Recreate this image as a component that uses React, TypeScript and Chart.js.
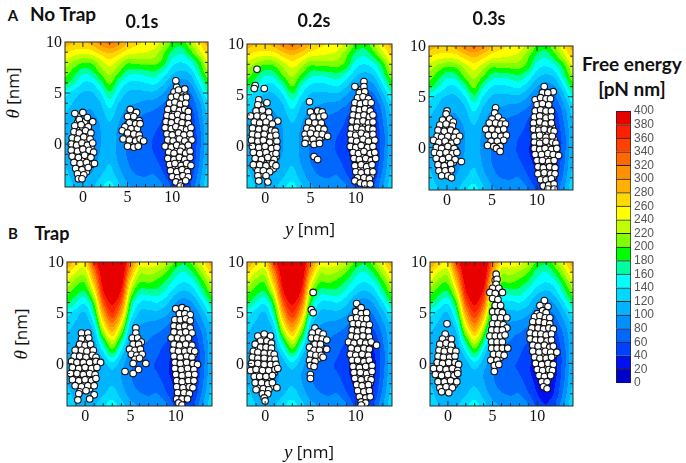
import React, { useEffect, useRef } from "react";
import { Chart, registerables } from "chart.js";

Chart.register(...registerables);

const columnsY = [-2,-1,0,1,2,3,4,5,6,7,8,9,10,11,12,13,14];
const rowsTheta = [10,9,8,7,6,5,4,3,2,1,0,-1,-2,-3,-4.2];

const noTrapEnergy = [
[292,280,278,288,312,325,308,280,266,258,252,230,195,190,218,258,292],
[262,252,248,252,272,284,270,250,244,240,232,205,175,165,192,232,268],
[232,216,202,206,230,250,230,205,208,208,208,190,150,140,155,192,242],
[210,188,165,172,205,225,200,170,165,170,175,155,125,115,125,170,215],
[188,165,140,140,170,205,165,140,135,140,145,125,100,90,100,140,190],
[150,130,118,118,140,175,140,118,115,115,115,100,80,70,78,115,160],
[130,118,108,105,120,150,120,105,100,95,92,80,65,55,62,95,135],
[120,110,100,98,110,130,108,92,85,80,75,62,50,42,48,85,125],
[115,105,95,92,102,118,100,85,78,72,68,55,42,34,42,78,118],
[115,105,92,90,100,112,95,80,70,65,60,46,34,28,36,72,115],
[118,105,90,90,100,110,95,78,68,62,58,42,30,24,34,72,115],
[118,106,92,92,102,112,95,78,68,62,60,44,32,26,36,75,118],
[120,108,95,95,108,120,100,82,72,68,68,52,36,30,42,80,122],
[125,112,100,102,118,130,110,90,80,78,80,62,42,36,48,88,128],
[130,120,110,115,135,150,125,105,95,92,98,82,56,48,62,100,135],
];

const trapEnergy = [
[300,270,262,360,420,430,420,330,258,252,248,225,195,185,212,252,295],
[265,240,232,320,410,420,410,300,228,228,218,200,170,160,185,225,265],
[235,210,205,285,395,415,395,260,202,202,192,175,150,140,155,195,235],
[205,188,178,245,375,405,370,225,170,170,170,150,125,115,130,170,210],
[185,160,145,205,340,385,335,190,140,135,140,125,100,90,105,140,180],
[150,130,120,175,300,360,295,165,118,115,115,105,85,75,85,115,150],
[130,118,108,145,260,320,250,135,105,98,95,85,70,60,70,98,125],
[120,110,100,122,215,275,205,115,92,85,80,70,55,48,55,85,118],
[115,105,95,110,170,225,165,100,85,78,70,58,45,36,45,78,115],
[115,105,92,100,135,180,130,90,75,68,62,48,36,28,38,72,115],
[118,105,92,96,112,135,110,85,70,62,58,44,30,22,34,72,115],
[118,106,92,95,105,115,100,82,70,62,60,44,30,20,34,75,118],
[120,108,95,98,108,118,102,84,74,68,68,52,34,22,40,80,122],
[125,112,100,105,118,130,112,92,82,78,80,62,40,28,46,88,128],
[130,120,110,118,135,150,128,108,98,92,98,82,54,42,62,100,135],
];

const bandLevels = [0,20,40,60,80,100,120,140,160,180,200,220,240,260,280,300,320,340,360,380];
const bandColors = ["#0000c8","#0010f0","#0040ff","#0068ff","#0090ff","#00b4ff","#00d8ff","#00ffff","#00ffa0","#00ff00","#80ff00","#c0ff00","#ffff00","#ffd800","#ffb000","#ff9000","#ff6800","#ff4000","#ff2000","#e80000"];
const barTicks = [0,20,40,60,80,100,120,140,160,180,200,220,240,260,280,300,320,340,360,380,400];
const panelTicks = [0,5,10];

const noTrap01 = [[-0.9,3.0],[0.0,3.1],[-0.4,2.4],[0.5,2.6],[1.1,2.2],[-0.9,1.8],[-0.2,1.9],[0.6,1.7],[-1.0,1.2],[-0.4,1.1],[0.3,1.3],[0.9,1.1],[-1.2,0.6],[-0.6,0.5],[0.1,0.7],[0.8,0.5],[-1.3,0.0],[-0.7,-0.1],[-0.1,0.1],[0.5,-0.1],[1.1,0.1],[-1.3,-0.6],[-0.6,-0.7],[0.0,-0.5],[0.7,-0.6],[1.2,-0.8],[-1.2,-1.2],[-0.5,-1.3],[0.2,-1.1],[0.9,-1.3],[-1.0,-1.8],[-0.3,-1.9],[0.4,-1.8],[1.3,-1.9],[-0.8,-2.4],[-0.1,-2.5],[0.6,-2.3],[-0.6,-2.9],[0.1,-3.0],[-0.5,-3.4],[-0.1,-3.4],
[5.3,3.4],[6.0,3.1],[5.0,2.7],[5.7,2.7],[6.3,2.3],[5.2,2.1],[5.9,2.0],[4.7,1.7],[5.4,1.5],[6.1,1.5],[6.4,2.0],[4.4,1.3],[5.0,1.1],[5.7,1.0],[6.3,0.9],[4.5,0.5],[5.2,0.4],[5.9,0.3],[6.4,0.5],[6.8,0.3],[5.0,-0.2],[5.7,-0.3],[6.2,-0.2],
[10.4,6.2],[11.0,5.2],[11.4,5.4],[10.2,5.1],[10.7,5.3],[9.9,4.6],[10.5,4.7],[11.1,4.5],[11.6,4.6],[9.7,4.0],[10.3,4.1],[10.9,3.9],[11.5,4.0],[9.5,3.4],[10.2,3.5],[10.8,3.3],[11.4,3.4],[11.8,3.2],[9.4,2.8],[10.0,2.7],[10.6,2.9],[11.2,2.7],[11.8,2.6],[9.3,2.2],[9.9,2.1],[10.6,2.3],[11.1,2.1],[11.8,2.0],[9.2,1.6],[9.9,1.5],[10.4,1.7],[11.0,1.5],[11.6,1.4],[12.1,1.6],[9.4,1.0],[10.0,0.9],[10.7,1.1],[11.3,0.9],[12.0,1.0],[9.5,0.4],[10.1,0.3],[10.8,0.5],[11.4,0.3],[12.2,0.4],[9.2,-0.2],[9.9,-0.3],[10.5,-0.1],[11.1,-0.3],[11.8,-0.1],[9.6,-0.8],[10.2,-0.9],[10.9,-0.7],[11.5,-0.9],[12.0,-0.7],[9.5,-1.4],[10.2,-1.5],[10.8,-1.3],[11.4,-1.5],[12.0,-1.3],[9.7,-2.0],[10.3,-1.9],[11.0,-2.1],[11.6,-1.9],[12.1,-2.1],[9.8,-2.6],[10.5,-2.7],[11.1,-2.5],[11.7,-2.7],[10.0,-3.2],[10.6,-3.3],[11.2,-3.1],[11.8,-3.2],[10.4,-3.7],[11.0,-3.8],[11.5,-3.6],[10.9,-4.1]];
const noTrap01Fill = [[-0.5,2.7],[-0.6,2.1],[0.2,2.2],[-0.7,1.5],[0.0,1.6],[0.6,1.4],[-0.8,0.9],[0.0,0.9],[0.7,0.8],[-1.0,0.3],[-0.3,0.3],[0.4,0.3],[-1.0,-0.3],[-0.3,-0.3],[0.3,-0.3],[0.9,-0.3],[-0.9,-0.9],[-0.2,-0.9],[0.4,-0.8],[1.0,-0.9],[-0.8,-1.5],[-0.1,-1.5],[0.6,-1.5],[-0.6,-2.1],[0.1,-2.2],[0.9,-2.0],[-0.4,-2.7],[0.4,-2.7],
[5.4,3.0],[5.5,2.4],[5.0,1.9],[5.7,1.8],[4.8,1.3],[5.4,1.2],[6.0,1.2],[4.9,0.7],[5.6,0.7],[5.4,0.1],[6.1,0.1],
[10.5,5.6],[10.2,4.9],[10.8,5.0],[11.3,5.0],[10.0,4.3],[10.6,4.4],[11.2,4.2],[9.8,3.7],[10.5,3.8],[11.1,3.6],[9.7,3.1],[10.3,3.1],[10.9,3.0],[11.5,3.0],[9.6,2.5],[10.3,2.5],[10.9,2.5],[11.5,2.3],[9.5,1.9],[10.2,1.9],[10.8,1.8],[11.4,1.8],[9.6,1.3],[10.2,1.2],[10.9,1.2],[11.6,1.2],[9.7,0.6],[10.4,0.6],[11.1,0.6],[11.7,0.7],[9.5,0.1],[10.2,0.1],[10.9,0.1],[11.6,0.1],[9.9,-0.6],[10.5,-0.5],[11.2,-0.6],[11.8,-0.5],[9.8,-1.1],[10.5,-1.2],[11.1,-1.1],[11.7,-1.1],[10.0,-1.7],[10.6,-1.7],[11.3,-1.7],[10.1,-2.3],[10.7,-2.3],[11.4,-2.3],[10.3,-2.9],[10.9,-2.9],[11.4,-2.9],[10.7,-3.5],[11.2,-3.5]];

const noTrap02 = [[-0.9,7.5],[-1.1,5.9],[-1.2,5.6],[-0.1,5.6],[-0.7,4.5],[-0.8,4.0],[0.2,4.2],[-1.0,3.4],[-0.3,3.5],[0.4,3.3],[-1.6,2.9],[-0.9,2.9],[-0.2,2.8],[0.5,2.7],[1.4,2.4],[-1.2,2.3],[-0.6,2.2],[0.1,2.3],[0.8,2.1],[-1.4,1.7],[-0.7,1.6],[0.0,1.7],[0.7,1.5],[1.1,1.4],[-1.4,1.1],[-0.8,1.0],[-0.1,1.1],[0.6,0.9],[1.2,1.0],[-1.5,0.5],[-0.8,0.4],[-0.2,0.5],[0.5,0.3],[1.3,0.4],[-1.4,-0.1],[-0.7,-0.2],[0.0,-0.1],[0.7,-0.3],[1.3,-0.2],[-1.3,-0.7],[-0.6,-0.8],[0.1,-0.7],[0.8,-0.9],[1.2,-0.8],[-1.1,-1.3],[-0.4,-1.4],[0.3,-1.2],[1.0,-1.4],[-1.3,-1.9],[-0.6,-1.9],[0.1,-2.0],[0.8,-1.8],[1.2,-2.0],[-0.8,-2.5],[-0.2,-2.5],[0.5,-2.6],[-0.8,-3.0],[0.1,-3.0],[-0.7,-3.5],[0.3,-3.6],
[4.9,4.3],[5.0,3.3],[5.8,3.4],[6.3,3.3],[5.3,2.8],[6.0,2.8],[6.5,2.9],[4.8,2.3],[5.5,2.2],[6.2,2.2],[4.6,1.7],[5.2,1.6],[5.9,1.7],[6.5,1.6],[4.4,1.1],[5.0,1.2],[5.7,1.1],[6.3,1.1],[6.9,0.9],[4.5,0.6],[5.3,0.6],[6.0,0.5],[4.4,0.2],[5.4,0.1],[6.0,0.2],[5.4,-1.1],[5.8,-1.4],
[10.9,6.3],[10.9,5.8],[9.9,5.8],[10.4,5.2],[11.0,5.3],[10.2,4.7],[10.8,4.8],[11.4,4.6],[9.9,4.2],[10.5,4.1],[11.1,4.2],[11.7,4.2],[9.8,3.6],[10.4,3.5],[11.0,3.6],[11.6,3.4],[9.7,3.0],[10.3,2.9],[10.9,3.0],[11.5,2.8],[11.9,3.0],[9.6,2.4],[10.2,2.3],[10.8,2.4],[11.4,2.2],[11.9,2.3],[9.5,1.7],[10.1,1.8],[10.7,1.6],[11.4,1.7],[11.9,1.6],[9.4,1.1],[10.0,1.0],[10.6,1.2],[11.2,1.0],[11.9,1.1],[9.5,0.5],[10.1,0.4],[10.8,0.6],[11.4,0.4],[12.1,0.5],[9.4,-0.1],[10.0,-0.2],[10.6,0.0],[11.3,-0.2],[11.9,-0.1],[9.7,-0.7],[10.3,-0.8],[10.9,-0.6],[11.6,-0.8],[12.1,-0.7],[9.8,-1.3],[10.4,-1.4],[11.1,-1.3],[11.7,-1.5],[12.2,-1.3],[9.9,-2.0],[10.6,-1.9],[11.2,-2.1],[11.8,-1.9],[10.0,-2.6],[10.6,-2.7],[11.3,-2.6],[11.9,-2.6],[10.2,-3.2],[10.9,-3.2],[11.5,-3.3],[9.9,-3.5],[10.5,-3.7],[11.0,-3.8],[11.6,-3.8]];
const noTrap02Fill = [[-0.5,3.9],[-0.6,3.1],[0.1,3.0],[-1.0,2.6],[-0.3,2.5],[0.4,2.4],[-1.0,2.0],[-0.3,1.9],[0.4,1.9],[-1.1,1.4],[-0.4,1.3],[0.3,1.3],[0.9,1.2],[-1.2,0.7],[-0.5,0.8],[0.2,0.7],[0.9,0.7],[-1.1,0.2],[-0.4,0.2],[0.3,0.1],[1.0,0.1],[-1.0,-0.4],[-0.3,-0.5],[0.4,-0.5],[1.0,-0.5],[-0.9,-1.0],[-0.1,-1.0],[0.5,-1.1],[1.2,-1.1],[-0.9,-1.6],[-0.2,-1.7],[0.5,-1.6],[-1.0,-2.2],[-0.3,-2.2],[0.4,-2.3],[0.9,-2.3],[-0.4,-2.8],
[5.5,3.1],[5.7,2.5],[5.1,2.0],[5.7,1.9],[6.3,1.9],[4.8,1.4],[5.4,1.3],[6.1,1.4],[4.9,0.9],[5.6,0.8],[6.2,0.8],[4.9,0.4],[5.7,0.3],
[10.6,5.5],[10.5,4.9],[11.1,4.9],[10.2,4.4],[10.8,4.5],[11.4,4.3],[10.1,3.9],[10.7,3.8],[11.3,3.9],[10.0,3.3],[10.6,3.2],[11.3,3.2],[10.0,2.7],[10.6,2.7],[11.2,2.6],[9.9,2.1],[10.5,2.0],[11.1,2.0],[11.7,1.9],[9.8,1.4],[10.4,1.4],[11.1,1.4],[11.7,1.3],[9.8,0.8],[10.4,0.8],[11.1,0.8],[11.7,0.8],[9.8,0.2],[10.4,0.1],[11.1,0.2],[11.8,0.2],[10.0,-0.5],[10.6,-0.4],[11.3,-0.5],[11.9,-0.4],[10.1,-1.0],[10.7,-1.0],[11.4,-1.1],[11.9,-1.0],[10.2,-1.7],[10.9,-1.6],[11.5,-1.7],[10.3,-2.3],[10.9,-2.4],[11.6,-2.3],[10.4,-2.9],[11.1,-2.9],[11.7,-3.0],[10.7,-3.5],[11.3,-3.5]];

const noTrap03 = [[0.0,3.6],[-0.1,3.3],[-0.5,2.7],[0.3,2.8],[0.7,2.5],[-0.8,2.2],[-0.1,2.3],[0.6,2.1],[-1.0,1.7],[-0.3,1.6],[0.4,1.7],[1.0,1.5],[-1.1,1.1],[-0.6,1.0],[0.1,1.1],[0.8,1.0],[1.4,1.1],[-1.5,0.7],[-0.9,0.5],[-0.2,0.6],[0.5,0.4],[1.1,0.6],[-1.2,0.0],[-0.6,-0.1],[0.1,0.1],[0.8,-0.1],[-1.4,-0.5],[-0.8,-0.6],[-0.1,-0.5],[0.6,-0.6],[1.1,-0.5],[-1.2,-1.1],[-0.5,-1.2],[0.2,-1.0],[0.9,-1.2],[1.6,-1.4],[-1.0,-1.7],[-0.3,-1.8],[0.4,-1.6],[-0.9,-2.3],[-0.2,-2.3],[0.5,-2.2],[-0.6,-2.8],[0.1,-2.8],[0.5,-3.0],
[5.4,3.9],[5.3,3.4],[5.7,3.0],[5.0,2.8],[6.2,2.6],[4.7,2.4],[5.4,2.4],[6.0,2.3],[6.5,2.3],[4.3,1.8],[5.0,1.8],[5.7,1.7],[6.3,1.8],[4.6,1.2],[5.3,1.2],[6.0,1.1],[6.6,1.2],[4.9,0.6],[5.6,0.6],[6.3,0.7],[4.5,0.2],[5.2,0.1],[5.9,0.1],[5.5,-0.1],[5.9,-0.4],
[10.8,6.0],[11.8,5.5],[10.6,5.4],[11.2,5.4],[9.8,4.7],[10.4,4.9],[11.0,4.8],[11.5,4.8],[10.0,4.2],[10.6,4.3],[11.3,4.2],[9.8,3.6],[10.4,3.7],[11.0,3.6],[11.6,3.6],[9.7,3.0],[10.3,3.1],[11.0,2.9],[11.6,3.0],[9.6,2.4],[10.3,2.5],[10.9,2.3],[11.6,2.4],[9.6,1.8],[10.2,1.7],[10.8,1.8],[11.5,1.7],[11.9,1.6],[9.7,1.1],[10.3,1.2],[11.0,1.0],[11.7,1.1],[9.7,0.5],[10.3,0.4],[11.0,0.6],[11.7,0.5],[12.1,0.4],[9.7,-0.1],[10.3,-0.2],[10.9,-0.1],[11.6,-0.2],[12.2,-0.1],[9.8,-0.7],[10.5,-0.7],[11.2,-0.6],[11.8,-0.7],[12.4,-0.8],[10.0,-1.3],[10.6,-1.3],[11.3,-1.4],[11.9,-1.3],[10.1,-1.9],[10.7,-2.0],[11.4,-1.9],[12.0,-2.0],[10.1,-2.6],[10.8,-2.5],[11.5,-2.6],[12.0,-2.6],[10.4,-3.2],[11.0,-3.2],[11.6,-3.1],[10.7,-3.8],[11.3,-3.7],[11.9,-3.6],[11.2,-4.1],[11.9,-4.1]];
const noTrap03Fill = [[-0.1,2.6],[-0.4,2.0],[0.3,2.0],[-0.7,1.4],[0.0,1.4],[0.7,1.3],[-0.9,0.8],[-0.2,0.9],[0.5,0.8],[-0.9,0.2],[-0.2,0.2],[0.5,0.2],[-0.9,-0.3],[-0.3,-0.3],[0.4,-0.3],[1.0,-0.3],[-0.8,-0.9],[-0.1,-0.9],[0.6,-0.9],[-0.7,-1.5],[0.0,-1.4],[0.7,-1.5],[-0.6,-2.0],[0.1,-2.0],[-0.3,-2.6],[0.3,-2.5],
[5.4,2.9],[5.7,2.6],[5.1,2.1],[5.7,2.1],[6.3,2.1],[4.7,1.5],[5.4,1.5],[6.0,1.5],[5.2,0.9],[5.9,0.9],[5.0,0.4],[5.7,0.3],
[10.9,5.1],[10.3,4.5],[10.8,4.5],[11.3,4.5],[10.2,4.0],[10.8,4.0],[11.3,3.9],[10.1,3.3],[10.7,3.4],[11.3,3.3],[10.0,2.7],[10.7,2.7],[11.3,2.7],[9.9,2.1],[10.5,2.1],[11.2,2.1],[11.7,2.0],[10.0,1.5],[10.5,1.4],[11.3,1.4],[10.0,0.8],[10.7,0.8],[11.3,0.8],[11.9,0.8],[10.0,0.2],[10.7,0.2],[11.4,0.2],[12.0,0.2],[10.1,-0.4],[10.8,-0.4],[11.5,-0.4],[12.1,-0.4],[10.3,-1.0],[10.9,-1.0],[11.6,-1.0],[10.4,-1.6],[11.0,-1.6],[11.7,-1.6],[10.4,-2.2],[11.1,-2.3],[11.7,-2.3],[10.6,-2.9],[11.2,-2.9],[11.8,-2.9],[10.9,-3.5],[11.5,-3.5]];

const trap01 = [[-0.4,3.0],[0.3,3.0],[-0.4,2.4],[0.4,2.5],[-0.6,1.9],[0.0,1.8],[0.6,1.9],[-1.1,1.3],[-0.4,1.3],[0.2,1.2],[0.9,1.3],[-1.2,0.7],[-0.6,0.7],[0.1,0.6],[0.8,0.8],[1.2,0.6],[-1.5,0.2],[-0.9,0.1],[-0.2,0.1],[0.5,0.1],[1.2,0.2],[1.7,0.1],[-1.4,-0.4],[-0.7,-0.5],[0.0,-0.4],[0.7,-0.5],[1.3,-0.4],[-1.6,-1.0],[-0.9,-1.0],[-0.2,-1.1],[0.5,-1.0],[1.1,-1.1],[-1.4,-1.6],[-0.7,-1.7],[0.0,-1.6],[0.7,-1.7],[1.2,-1.5],[-1.1,-2.2],[-0.4,-2.3],[0.3,-2.2],[1.0,-2.2],[-0.6,-2.8],[0.1,-2.7],[-0.7,-3.0],[1.0,-3.1],[-0.8,-3.6],[0.5,-3.5],
[5.6,3.5],[5.6,3.0],[5.2,2.5],[5.8,2.5],[6.2,2.1],[5.3,1.9],[5.9,1.9],[4.9,1.4],[5.5,1.3],[6.1,1.4],[5.1,0.9],[5.7,0.8],[6.3,0.9],[5.5,0.4],[6.0,0.5],[5.3,0.0],[6.7,0.0],[5.9,-0.6],[4.4,-0.8],[5.3,-1.0],
[10.0,5.4],[10.7,5.5],[11.2,5.3],[10.4,4.9],[11.0,4.9],[11.6,4.8],[9.9,4.3],[10.5,4.3],[11.1,4.4],[11.6,4.2],[9.8,3.7],[10.4,3.6],[11.0,3.7],[11.6,3.5],[9.8,3.1],[10.5,3.0],[11.1,3.1],[11.8,3.0],[9.5,2.5],[10.2,2.5],[10.8,2.4],[11.4,2.5],[9.8,1.9],[10.4,1.8],[11.1,1.9],[11.8,1.8],[9.7,1.3],[10.3,1.2],[11.0,1.2],[11.6,1.3],[12.1,1.2],[9.8,0.7],[10.5,0.6],[11.2,0.7],[11.8,0.6],[9.9,0.1],[10.5,0.0],[11.2,0.1],[11.9,0.0],[12.4,-0.1],[9.9,-0.5],[10.6,-0.6],[11.3,-0.5],[12.0,-0.6],[10.0,-1.1],[10.7,-1.2],[11.4,-1.1],[12.1,-1.1],[10.1,-1.7],[10.7,-1.8],[11.4,-1.7],[12.0,-1.7],[10.1,-2.3],[10.8,-2.4],[11.5,-2.3],[11.9,-2.4],[10.2,-2.9],[10.9,-2.9],[11.5,-3.0],[10.1,-3.5],[10.7,-3.5],[11.3,-3.5],[10.3,-3.9],[10.7,-4.1]];
const trap01Fill = [[0.0,2.6],[-0.1,2.1],[-0.7,1.6],[0.3,1.6],[-0.8,1.0],[-0.1,1.0],[0.5,1.0],[-1.0,0.4],[-0.3,0.4],[0.5,0.4],[0.9,0.4],[-1.1,-0.2],[-0.4,-0.2],[0.3,-0.2],[0.9,-0.2],[-1.2,-0.8],[-0.5,-0.8],[0.2,-0.7],[0.9,-0.8],[-1.1,-1.3],[-0.4,-1.4],[0.3,-1.4],[0.9,-1.4],[-0.8,-2.0],[-0.1,-2.0],[0.6,-2.0],[-0.2,-2.5],[0.5,-2.5],
[5.5,2.2],[5.6,1.6],[5.2,1.2],[5.8,1.1],[5.4,0.7],[6.0,0.7],
[10.4,5.2],[10.8,4.6],[11.3,4.6],[10.2,4.0],[10.8,4.0],[11.3,4.0],[10.1,3.4],[10.7,3.4],[11.3,3.3],[9.9,2.8],[10.8,2.7],[11.5,2.8],[10.1,2.2],[10.7,2.1],[11.4,2.2],[10.0,1.6],[10.7,1.5],[11.4,1.6],[10.0,1.0],[10.7,0.9],[11.4,0.9],[12.0,0.9],[10.2,0.4],[10.9,0.4],[11.5,0.4],[10.2,-0.2],[10.9,-0.3],[11.6,-0.2],[12.1,-0.3],[10.3,-0.8],[11.0,-0.9],[11.7,-0.8],[10.4,-1.4],[11.1,-1.5],[11.7,-1.4],[10.4,-2.0],[11.1,-2.1],[11.7,-2.0],[10.5,-2.6],[11.2,-2.6],[10.5,-3.2],[11.2,-3.2]];

const trap02 = [[-0.8,2.7],[-0.1,2.9],[0.6,2.7],[-0.5,2.2],[0.2,2.2],[0.7,2.0],[-1.1,1.9],[-0.5,1.6],[0.1,1.6],[0.7,1.5],[-1.3,1.2],[-0.8,1.1],[-0.1,1.0],[0.6,1.0],[1.0,0.9],[-1.4,0.6],[-0.8,0.5],[-0.1,0.5],[0.6,0.4],[1.1,0.4],[-1.5,0.0],[-0.8,0.0],[-0.1,-0.1],[0.6,-0.1],[1.2,-0.1],[-1.6,-0.7],[-1.0,-0.6],[-0.3,-0.7],[0.4,-0.7],[1.1,-0.6],[1.4,-0.5],[-1.2,-1.3],[-0.6,-1.3],[0.1,-1.3],[0.8,-1.2],[-1.1,-1.9],[-0.4,-1.9],[0.3,-2.0],[0.8,-1.9],[-1.0,-2.6],[-0.2,-2.5],[0.4,-2.6],[1.3,-2.4],[-0.3,-3.0],[0.3,-3.0],[-0.1,-3.4],[0.0,-3.7],
[5.3,7.0],[5.1,5.3],[5.3,5.0],[5.5,3.5],[5.2,3.0],[5.9,3.1],[6.4,2.9],[5.1,2.5],[5.7,2.5],[6.3,2.4],[6.8,2.3],[5.5,1.9],[6.1,1.9],[4.9,1.6],[5.4,1.3],[6.0,1.3],[6.8,1.4],[5.0,0.9],[5.6,0.8],[6.2,0.8],[4.9,0.3],[5.5,0.2],[6.4,0.6],[5.0,-0.2],[5.4,-0.3],[5.0,-1.1],[5.0,-1.5],
[10.1,5.9],[10.6,5.5],[10.0,5.1],[10.6,4.9],[11.2,5.0],[9.5,4.4],[10.1,4.5],[10.7,4.4],[11.2,4.4],[9.7,3.9],[10.3,3.9],[10.9,3.8],[11.5,3.8],[9.6,3.3],[10.2,3.2],[10.8,3.3],[11.4,3.2],[9.5,2.7],[10.1,2.6],[10.8,2.7],[11.5,2.6],[9.2,2.1],[9.8,2.0],[10.5,2.1],[11.1,2.0],[11.7,2.1],[12.3,1.8],[9.5,1.5],[10.2,1.4],[10.9,1.5],[11.5,1.4],[9.4,0.9],[10.0,0.8],[10.7,0.9],[11.4,0.8],[9.6,0.3],[10.2,0.3],[10.9,0.2],[11.5,0.3],[9.7,-0.3],[10.4,-0.4],[11.1,-0.3],[11.8,-0.2],[9.8,-0.9],[10.5,-0.9],[11.2,-1.0],[11.8,-0.8],[9.9,-1.5],[10.6,-1.6],[11.3,-1.5],[11.7,-1.6],[10.1,-2.1],[10.7,-2.2],[11.4,-2.1],[10.2,-2.7],[10.9,-2.8],[11.5,-2.7],[10.4,-3.3],[11.1,-3.4],[11.6,-3.3],[10.6,-3.8],[11.1,-3.9],[10.6,-4.1]];
const trap02Fill = [[-0.3,2.5],[-0.8,2.0],[-0.1,1.9],[0.4,1.8],[-0.9,1.4],[-0.2,1.3],[0.4,1.3],[-1.0,0.8],[-0.4,0.8],[0.3,0.7],[0.9,0.7],[-1.1,0.3],[-0.4,0.2],[0.3,0.2],[0.9,0.2],[-1.2,-0.3],[-0.5,-0.4],[0.2,-0.4],[0.9,-0.4],[-0.8,-1.0],[-0.1,-1.0],[0.6,-0.9],[1.0,-0.9],[-0.9,-1.6],[-0.2,-1.6],[0.5,-1.6],[-0.7,-2.2],[0.0,-2.3],[0.6,-2.3],[-0.1,-2.8],
[5.5,2.7],[5.4,2.2],[5.9,2.2],[5.2,1.6],[5.8,1.6],[6.3,1.5],[5.2,1.1],[5.9,1.1],[5.2,0.5],[5.9,0.5],[5.2,0.1],
[10.3,5.3],[10.3,4.7],[10.9,4.7],[9.9,4.2],[10.5,4.1],[11.1,4.1],[10.0,3.6],[10.6,3.6],[11.2,3.5],[9.9,3.0],[10.5,2.9],[11.1,3.0],[9.8,2.4],[10.4,2.4],[11.1,2.3],[9.9,1.7],[10.5,1.8],[11.2,1.7],[9.8,1.2],[10.5,1.1],[11.2,1.2],[9.9,0.6],[10.5,0.6],[11.2,0.5],[10.0,0.0],[10.7,0.0],[11.4,0.0],[10.1,-0.6],[10.8,-0.6],[11.5,-0.6],[10.2,-1.2],[10.9,-1.2],[11.6,-1.2],[10.3,-1.9],[11.0,-1.9],[11.6,-1.9],[10.5,-2.4],[11.2,-2.5],[10.6,-3.0],[11.3,-3.0],[10.8,-3.6]];

const trap03 = [[-0.1,3.9],[-0.3,2.9],[-0.6,2.4],[0.4,2.4],[-0.9,1.9],[-0.2,2.0],[0.4,1.8],[-1.0,1.3],[-0.4,1.2],[0.3,1.3],[0.9,1.2],[-1.1,0.7],[-0.5,0.6],[0.2,0.6],[0.8,0.7],[-1.2,0.1],[-0.6,0.0],[0.1,0.1],[0.8,0.1],[1.2,-0.1],[-1.6,-0.5],[-0.9,-0.5],[-0.2,-0.6],[0.5,-0.5],[1.1,-0.7],[-1.4,-1.1],[-0.7,-1.2],[0.0,-1.1],[0.7,-1.2],[1.1,-1.0],[-1.1,-1.8],[-0.4,-1.8],[0.3,-1.7],[1.0,-1.8],[-0.9,-2.4],[-0.2,-2.3],[0.5,-2.4],[-0.7,-2.8],[0.1,-2.9],
[5.4,8.8],[5.5,8.3],[5.4,7.8],[5.0,7.4],[5.7,7.4],[4.7,7.0],[5.3,6.9],[6.1,7.0],[5.0,6.4],[5.6,6.3],[5.3,5.7],[5.9,5.7],[5.0,5.1],[5.6,5.1],[6.1,5.0],[5.2,4.5],[5.9,4.5],[6.6,4.5],[5.0,3.9],[5.6,3.9],[6.2,3.8],[6.6,3.5],[4.9,3.3],[5.5,3.3],[6.1,3.3],[4.7,2.7],[5.3,2.7],[5.9,2.7],[6.4,2.8],[4.9,2.1],[5.5,2.1],[6.1,2.1],[4.9,1.5],[5.5,1.5],[6.1,1.5],[6.7,1.5],[5.1,0.9],[5.7,0.9],[6.3,0.8],[4.8,0.3],[5.5,0.3],[5.2,-0.2],[5.7,-0.1],[5.2,-0.8],
[10.8,6.2],[10.3,5.7],[11.2,5.6],[10.6,5.2],[11.0,5.0],[9.7,4.6],[10.3,4.7],[10.9,4.5],[11.4,4.5],[9.5,4.1],[10.2,4.1],[10.8,4.0],[11.4,3.9],[9.4,3.5],[10.1,3.5],[10.7,3.4],[11.3,3.5],[11.8,3.4],[9.2,3.0],[9.8,2.9],[10.4,2.9],[11.0,2.8],[11.6,2.9],[9.2,2.4],[9.8,2.3],[10.4,2.3],[11.1,2.2],[11.6,2.3],[9.5,1.8],[10.1,1.7],[10.8,1.8],[11.4,1.6],[11.8,1.7],[9.5,1.2],[10.2,1.1],[10.9,1.2],[11.5,1.1],[12.2,1.1],[9.7,0.6],[10.3,0.5],[11.0,0.5],[11.6,0.6],[9.8,0.0],[10.5,-0.1],[11.2,0.0],[11.8,-0.1],[10.0,-0.6],[10.6,-0.7],[11.3,-0.6],[11.7,-0.7],[10.2,-1.2],[10.8,-1.3],[11.5,-1.2],[10.5,-1.8],[11.1,-1.8],[10.7,-2.3],[11.1,-2.5]];
const trap03Fill = [[-0.2,2.6],[-0.5,1.6],[0.1,1.6],[0.5,1.6],[-0.7,1.0],[0.0,1.0],[0.6,1.0],[-0.9,0.4],[-0.2,0.4],[0.5,0.4],[-0.9,-0.2],[-0.2,-0.2],[0.5,-0.2],[1.0,-0.3],[-1.0,-0.8],[-0.4,-0.9],[0.3,-0.8],[0.9,-0.8],[-0.8,-1.5],[-0.1,-1.5],[0.6,-1.5],[-0.6,-2.1],[0.1,-2.0],[0.7,-2.1],[-0.3,-2.6],
[5.3,8.2],[5.3,7.2],[5.4,6.6],[5.6,6.0],[5.3,5.4],[5.9,5.3],[5.5,4.7],[6.2,4.7],[5.3,4.2],[5.9,4.2],[5.2,3.6],[5.8,3.6],[6.3,3.5],[5.1,3.0],[5.7,3.0],[6.2,3.0],[5.2,2.4],[5.8,2.4],[5.2,1.8],[5.8,1.8],[5.4,1.2],[6.0,1.2],[5.2,0.6],[5.9,0.6],[5.5,0.0],
[10.6,5.7],[10.0,4.9],[10.7,4.9],[9.9,4.4],[10.5,4.3],[11.1,4.3],[9.8,3.8],[10.4,3.8],[11.0,3.7],[9.7,3.2],[10.4,3.2],[11.0,3.2],[11.5,3.2],[9.5,2.7],[10.1,2.6],[10.7,2.6],[11.3,2.6],[9.5,2.1],[10.1,2.0],[10.8,2.1],[11.4,2.0],[9.8,1.5],[10.5,1.4],[11.1,1.5],[11.7,1.4],[9.9,0.9],[10.5,0.8],[11.2,0.8],[11.9,0.9],[10.0,0.3],[10.7,0.2],[11.4,0.3],[10.2,-0.3],[10.9,-0.3],[11.5,-0.3],[10.3,-0.9],[11.0,-0.9],[11.5,-0.9],[10.5,-1.5],[11.2,-1.5],[10.8,-2.0]];

type Box = { left: number; top: number; w: number; h: number; field: number[][]; pts: number[][] };
const panels: Box[] = [
  { left: 65, top: 42, w: 143, h: 145, field: noTrapEnergy, pts: [...noTrap01Fill, ...noTrap01] },
  { left: 247, top: 44, w: 145, h: 144, field: noTrapEnergy, pts: [...noTrap02Fill, ...noTrap02] },
  { left: 429, top: 46, w: 144, h: 144, field: noTrapEnergy, pts: [...noTrap03Fill, ...noTrap03] },
  { left: 67, top: 262, w: 145, h: 144, field: trapEnergy, pts: [...trap01Fill, ...trap01] },
  { left: 247, top: 262, w: 145, h: 144, field: trapEnergy, pts: [...trap02Fill, ...trap02] },
  { left: 430, top: 262, w: 143, h: 144, field: trapEnergy, pts: [...trap03Fill, ...trap03] },
];

const PAD_L = 34, PAD_T = 12, PAD_R = 6, PAD_B = 24;

function cubic(a: number, b: number, c: number, d: number, t: number) {
  return b + 0.5 * t * (c - a + t * (2 * a - 5 * b + 4 * c - d + t * (3 * (b - c) + d - a)));
}
function sampleField(field: number[][], xv: number, tv: number) {
  const cx = Math.max(0, Math.min(columnsY.length - 1.001, xv - columnsY[0]));
  let ry = rowsTheta.length - 1.001;
  for (let i = 0; i < rowsTheta.length - 1; i++) {
    if (tv <= rowsTheta[i] && tv >= rowsTheta[i + 1]) { ry = i + (rowsTheta[i] - tv) / (rowsTheta[i] - rowsTheta[i + 1]); break; }
  }
  const ci = Math.floor(cx), ri = Math.floor(ry), ft = cx - ci, fr = ry - ri;
  const rowAt = (r: number) => {
    const row = field[Math.max(0, Math.min(field.length - 1, r))];
    const g = (c: number) => row[Math.max(0, Math.min(row.length - 1, c))];
    return cubic(g(ci - 1), g(ci), g(ci + 1), g(ci + 2), ft);
  };
  return cubic(rowAt(ri - 1), rowAt(ri), rowAt(ri + 1), rowAt(ri + 2), fr);
}

const contourPlugin = {
  id: "contour",
  beforeDatasetsDraw(chart: any) {
    const { ctx, chartArea: a, scales } = chart;
    const field = chart.options.plugins.contour.field as number[][];
    const w = Math.round(a.right - a.left), h = Math.round(a.bottom - a.top);
    const off = document.createElement("canvas");
    off.width = w; off.height = h;
    const oc = off.getContext("2d")!;
    for (let py = 0; py < h; py++) {
      for (let px = 0; px < w; px++) {
        const v = sampleField(field, scales.x.getValueForPixel(a.left + px + 0.5), scales.y.getValueForPixel(a.top + py + 0.5));
        const b = Math.max(0, Math.min(bandLevels.length - 1, Math.floor(v / 20)));
        oc.fillStyle = bandColors[b];
        oc.fillRect(px, py, 1, 1);
      }
    }
    ctx.save();
    ctx.beginPath(); ctx.rect(a.left, a.top, w, h); ctx.clip();
    ctx.filter = "blur(0.6px)";
    ctx.drawImage(off, a.left, a.top);
    ctx.restore();
  },
  afterDraw(chart: any) {
    const { ctx, chartArea: a, scales } = chart;
    ctx.save();
    ctx.strokeStyle = "#2a2a2a"; ctx.lineWidth = 1;
    ctx.strokeRect(a.left, a.top, a.right - a.left, a.bottom - a.top);
    ctx.beginPath();
    columnsY.forEach((v) => {
      if (v <= -2 || v >= 14) return;
      const p = scales.x.getPixelForValue(v), l = v % 5 === 0 ? 5 : 3;
      ctx.moveTo(p, a.top); ctx.lineTo(p, a.top + l);
      ctx.moveTo(p, a.bottom); ctx.lineTo(p, a.bottom - l);
    });
    rowsTheta.forEach((v) => {
      if (v >= 10 || v < -4) return;
      const p = scales.y.getPixelForValue(v), l = v % 5 === 0 ? 5 : 3;
      ctx.moveTo(a.left, p); ctx.lineTo(a.left + l, p);
      ctx.moveTo(a.right, p); ctx.lineTo(a.right - l, p);
    });
    ctx.stroke();
    ctx.font = "16px 'Liberation Serif', serif";
    ctx.fillStyle = "#111";
    ctx.textAlign = "center"; ctx.textBaseline = "middle";
    scales.x.ticks.forEach((t: any) => ctx.fillText(String(t.value), scales.x.getPixelForValue(t.value), a.bottom + 11));
    ctx.textAlign = "right";
    scales.y.ticks.forEach((t: any) => ctx.fillText(String(t.value), a.left - 3, scales.y.getPixelForValue(t.value) + 1));
    ctx.restore();
  },
};

const barLabelPlugin = {
  id: "barLabels",
  afterDraw(chart: any) {
    const { ctx, chartArea: a, scales } = chart;
    ctx.save();
    ctx.font = "12px 'Liberation Sans', Arial, sans-serif";
    ctx.fillStyle = "#555";
    ctx.textAlign = "left"; ctx.textBaseline = "middle";
    scales.y.ticks.forEach((t: any) => ctx.fillText(String(t.value), a.right + 3, scales.y.getPixelForValue(t.value)));
    ctx.restore();
  },
};

function Panel({ box }: { box: Box }) {
  const ref = useRef<HTMLCanvasElement>(null);
  useEffect(() => {
    const chart = new Chart(ref.current!, {
      type: "scatter",
      data: { datasets: [{ data: box.pts.map(([x, y]) => ({ x, y })), pointRadius: 3.3, pointBackgroundColor: "#fff", pointBorderColor: "#111", pointBorderWidth: 1.1 }] },
      options: {
        animation: false, responsive: false, devicePixelRatio: 1,
        layout: { padding: { top: PAD_T, right: PAD_R, left: 0, bottom: 0 } },
        plugins: { legend: { display: false }, tooltip: { enabled: false }, contour: { field: box.field } } as any,
        scales: {
          x: {
            type: "linear", min: -2, max: 14, grid: { display: false }, border: { display: false },
            afterBuildTicks: (s: any) => { s.ticks = panelTicks.map((value) => ({ value })); },
            afterFit: (s: any) => { s.height = PAD_B; },
            ticks: { display: false },
          },
          y: {
            type: "linear", min: -4.2, max: 10, grid: { display: false }, border: { display: false },
            afterBuildTicks: (s: any) => { s.ticks = panelTicks.map((value) => ({ value })); },
            afterFit: (s: any) => { s.width = PAD_L; },
            ticks: { display: false },
          },
        },
      },
      plugins: [contourPlugin],
    } as any);
    return () => chart.destroy();
  }, [box]);
  return (
    <canvas ref={ref} width={box.w + PAD_L + PAD_R} height={box.h + PAD_T + PAD_B}
      style={{ position: "absolute", left: box.left - PAD_L, top: box.top - PAD_T }} />
  );
}

function ColorBar() {
  const ref = useRef<HTMLCanvasElement>(null);
  useEffect(() => {
    const chart = new Chart(ref.current!, {
      type: "bar",
      data: {
        labels: ["Free energy"],
        datasets: bandLevels.map((lv, i) => ({ data: [[lv, lv + 20]], backgroundColor: bandColors[i], borderColor: "#222", borderWidth: 1, barPercentage: 1, categoryPercentage: 1, grouped: false })),
      } as any,
      options: {
        animation: false, responsive: false, devicePixelRatio: 1,
        layout: { padding: { top: 9, bottom: 9, left: 0, right: 0 } },
        plugins: { legend: { display: false }, tooltip: { enabled: false } },
        scales: {
          x: { display: false },
          y: {
            position: "right", min: 0, max: 400, grid: { display: false }, border: { display: false },
            afterBuildTicks: (s: any) => { s.ticks = barTicks.map((value) => ({ value })); },
            afterFit: (s: any) => { s.width = 30; },
            ticks: { display: false },
          },
        },
      },
      plugins: [barLabelPlugin],
    } as any);
    return () => chart.destroy();
  }, []);
  return <canvas ref={ref} width={45} height={290} style={{ position: "absolute", left: 616, top: 102 }} />;
}

const bold: React.CSSProperties = { position: "absolute", fontFamily: "Lato, sans-serif", fontWeight: 700, color: "#111", whiteSpace: "nowrap", lineHeight: 1 };

function Centered({ x, y, size, children }: { x: number; y: number; size: number; children: React.ReactNode }) {
  return <div style={{ ...bold, left: x, top: y, fontSize: size, transform: "translate(-50%,-50%)" }}>{children}</div>;
}

function AxisTitle({ x, y, sym, rotate }: { x: number; y: number; sym: string; rotate?: boolean }) {
  return (
    <div style={{ position: "absolute", left: x, top: y, whiteSpace: "nowrap", lineHeight: 1, fontSize: 17, color: "#111", fontFamily: "'Open Sans', sans-serif", transform: `translate(-50%,-50%)${rotate ? " rotate(-90deg)" : ""}` }}>
      <i style={{ fontFamily: "'Liberation Serif', serif", fontSize: 19 }}>{sym}</i> [nm]
    </div>
  );
}

export default function App() {
  return (
    <div style={{ position: "absolute", left: 0, top: 0, width: 686, height: 463, background: "#fff", overflow: "hidden" }}>
      {panels.map((b, i) => <Panel key={i} box={b} />)}
      <ColorBar />
      <Centered x={13} y={15} size={15}>A</Centered>
      <Centered x={63} y={13} size={19}>No Trap</Centered>
      <Centered x={13} y={233} size={15}>B</Centered>
      <Centered x={52} y={233} size={18}>Trap</Centered>
      <Centered x={142} y={21} size={18}>0.1s</Centered>
      <Centered x={314} y={20} size={18}>0.2s</Centered>
      <Centered x={489} y={18} size={18}>0.3s</Centered>
      <Centered x={632} y={63} size={19}>Free energy</Centered>
      <Centered x={632} y={88} size={19}>[pN nm]</Centered>
      <AxisTitle x={12} y={93} sym="θ" rotate />
      <AxisTitle x={20} y={334} sym="θ" rotate />
      <AxisTitle x={310} y={228} sym="y" />
      <AxisTitle x={309} y={451} sym="y" />
    </div>
  );
}
